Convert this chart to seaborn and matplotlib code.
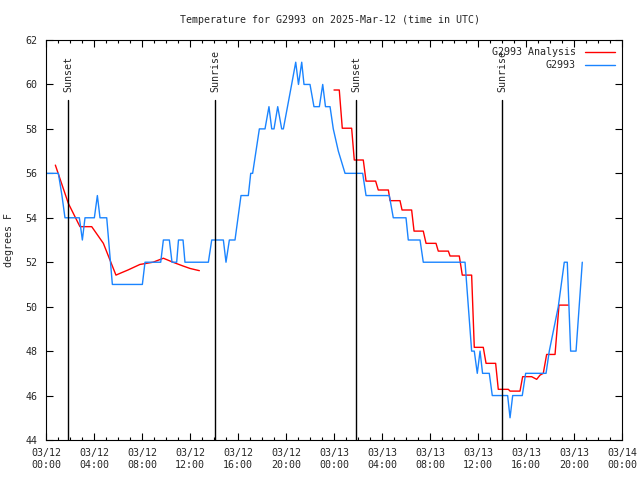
import numpy as np
import pandas as pd
import matplotlib
matplotlib.use("Agg")
import matplotlib.pyplot as plt
import matplotlib.dates as mdates
from matplotlib.lines import Line2D
import seaborn as sns

# hours after 2025-03-12 00:00 UTC, temperatures in degrees F
obs_hours = [0.06, 1.03, 1.33, 1.58, 2.78, 3.03, 3.25, 4.03, 4.28, 4.5,
             5.06, 5.53, 8.03, 8.25, 9.56, 9.78, 10.28, 10.5, 10.89, 11.04,
             11.42, 11.58, 13.53, 13.81, 14.78, 15.0, 15.28, 15.75, 16.25, 16.86,
             17.06, 17.22, 17.78, 18.25, 18.58, 18.81, 19.0, 19.31, 19.64, 19.78,
             20.47, 20.81, 21.04, 21.31, 21.5, 22.0, 22.33, 22.78, 23.06, 23.29,
             23.67, 23.94, 24.36, 24.92, 26.39, 26.67, 28.61, 28.94, 30.0, 30.19,
             31.17, 31.44, 34.92, 35.47, 35.69, 35.94, 36.17, 36.38, 36.94, 37.19,
             38.47, 38.67, 38.89, 39.69, 39.97, 41.67, 41.94, 42.69, 43.19, 43.44,
             43.72, 44.17, 44.69]
obs_temps = [56, 56, 55, 54, 54, 53, 54, 54, 55, 54,
             54, 51, 51, 52, 52, 53, 53, 52, 52, 53,
             53, 52, 52, 53, 53, 52, 53, 53, 55, 55,
             56, 56, 58, 58, 59, 58, 58, 59, 58, 58,
             60, 61, 60, 61, 60, 60, 59, 59, 60, 59,
             59, 58, 57, 56, 56, 55, 55, 54, 54, 53,
             53, 52, 52, 48, 48, 47, 48, 47, 47, 46,
             46, 45, 46, 46, 47, 47, 48, 50, 52, 52,
             48, 48, 52]

ana1_hours = [0.78, 1.86, 2.83, 3.81, 4.78, 5.33, 5.83, 6.17, 6.83, 7.83,
              8.92, 9.78, 10.58, 11.42, 12.0, 12.78]
ana1_temps = [56.37, 54.65, 53.6, 53.6, 52.85, 52.1, 51.42, 51.5, 51.65, 51.9,
              52.0, 52.18, 52.0, 51.83, 51.72, 51.62]

ana2_hours = [24.0, 24.44, 24.69, 25.47, 25.69, 26.44, 26.67, 27.47, 27.69, 28.53,
              28.67, 29.5, 29.67, 30.47, 30.67, 31.44, 31.67, 32.5, 32.69, 33.53,
              33.67, 34.44, 34.69, 35.47, 35.69, 36.44, 36.67, 37.47, 37.69, 38.53,
              38.67, 39.5, 39.72, 40.47, 40.89, 41.17, 41.44, 41.72, 42.42, 42.75,
              43.52]
ana2_temps = [59.75, 59.75, 58.03, 58.03, 56.6, 56.6, 55.65, 55.65, 55.25, 55.25,
              54.77, 54.77, 54.35, 54.35, 53.4, 53.4, 52.85, 52.85, 52.5, 52.5,
              52.28, 52.28, 51.42, 51.42, 48.17, 48.17, 47.45, 47.45, 46.28, 46.28,
              46.2, 46.2, 46.85, 46.85, 46.73, 46.92, 47.0, 47.85, 47.85, 50.07,
              50.07]

sun_hours = [1.83, 14.08, 25.83, 38.0]
sun_labels = ["Sunset", "Sunrise", "Sunset", "Sunrise"]

base = pd.Timestamp("2025-03-12 00:00")
def to_time(h):
    return base + pd.to_timedelta(np.array(h), unit="h")

red = "#ff0000"
blue = "#1a84ff"
mono = "DejaVu Sans Mono"
fs = 7.2

sns.set_style("ticks")
plt.rcParams["font.family"] = [mono, "DejaVu Sans"]

fig = plt.figure(figsize=(6.4, 4.8), dpi=100)
ax = fig.add_axes([46 / 640, 1 - 440 / 480, 576 / 640, 400 / 480])

sns.lineplot(x=to_time(ana1_hours), y=ana1_temps, color=red, linewidth=1.0,
             estimator=None, sort=False, ax=ax)
sns.lineplot(x=to_time(ana2_hours), y=ana2_temps, color=red, linewidth=1.0,
             estimator=None, sort=False, ax=ax)
sns.lineplot(x=to_time(obs_hours), y=obs_temps, color=blue, linewidth=1.0,
             estimator=None, sort=False, ax=ax)

for h, lab in zip(sun_hours, sun_labels):
    t = to_time([h])[0]
    ax.plot([t, t], [44, 59.3], color="black", linewidth=1.0)
    ax.text(t, 59.65, lab, rotation=90, ha="center", va="bottom",
            fontsize=fs, family=mono)

ax.set_xlim(base, base + pd.Timedelta(hours=48))
ax.set_ylim(44, 62)
ax.set_yticks(np.arange(44, 63, 2))
ax.xaxis.set_major_locator(mdates.HourLocator(byhour=range(0, 24, 4)))
ax.xaxis.set_minor_locator(mdates.HourLocator())
ax.xaxis.set_major_formatter(mdates.DateFormatter("%m/%d\n%H:%M"))
ax.tick_params(which="both", direction="in", top=True, right=True,
               labelsize=fs, width=0.8, color="black")
ax.tick_params(which="major", length=5, pad=6)
ax.tick_params(which="minor", length=2.5)
for s in ax.spines.values():
    s.set_color("black")
    s.set_linewidth(0.8)
ax.set_xlabel("")
ax.set_ylabel("degrees F", fontsize=fs, family=mono)
ax.yaxis.set_label_coords(-0.055, 0.5)

handles = [Line2D([], [], color=red, linewidth=1.0),
           Line2D([], [], color=blue, linewidth=1.0)]
ax.legend(handles, ["G2993 Analysis", "G2993"], loc="upper right",
          frameon=False, markerfirst=False, fontsize=fs, handlelength=3.0,
          handletextpad=0.9, labelspacing=0.3, borderaxespad=0.45,
          borderpad=0.3)

fig.text(0.516, 1 - 20 / 480, "Temperature for G2993 on 2025-Mar-12 (time in UTC)",
         ha="center", va="center", fontsize=fs, family=mono)

fig.savefig("out.png", dpi=100)
